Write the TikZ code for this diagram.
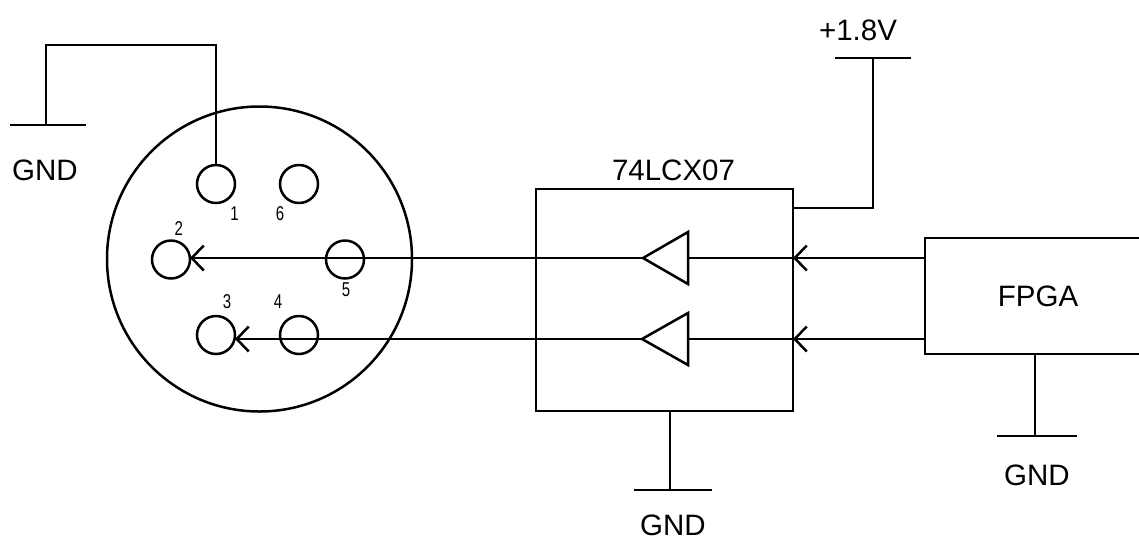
\documentclass[tikz,border=0pt]{standalone}
\usepackage{fontspec}
\setmainfont{Liberation Sans}
\newfontfamily\numfont[FakeStretch=0.75]{Liberation Sans}
\usetikzlibrary{arrows.meta,shapes.geometric}
\tikzset{
  x=1pt,y=-1pt,
  wire/.style={line width=2.5pt,draw=black,line join=miter},
  sig/.style={wire,-{Straight Barb[length=12pt,width=25pt,line width=2.5pt]}},
  pin/.style={circle,draw=black,line width=2.5pt,minimum size=38pt,inner sep=0pt,outer sep=0pt},
  lab/.style={font=\fontsize{29.5}{30}\selectfont,inner sep=0pt},
  num/.style={font=\numfont\fontsize{20}{20}\selectfont,inner sep=0pt},
  buf/.style={wire,fill=white},
}
\begin{document}
\begin{tikzpicture}
\useasboundingbox (0,0) rectangle (1139,539);
% connector
\node[circle,draw=black,line width=2.5pt,minimum size=305pt,inner sep=0pt] (shell) at (259.5,259) {};
\node[pin] (p1) at (216,184) {};
\node[pin] (p6) at (299,184) {};
\node[pin] (p2) at (171,259.5) {};
\node[pin] (p5) at (345,259.5) {};
\node[pin] (p3) at (216,335) {};
\node[pin] (p4) at (299,335) {};
\node[num] (n1) at (234.5,214) {1};
\node[num] (n6) at (280,214) {6};
\node[num] (n2) at (178.7,228.7) {2};
\node[num] (n5) at (346,290) {5};
\node[num] (n3) at (227,301.3) {3};
\node[num] (n4) at (278,301.3) {4};
% boxes
\node[draw=black,line width=2.5pt,minimum width=257pt,minimum height=222pt,inner sep=0pt] (ic) at (664.5,300) {};
\node[draw=black,line width=2.5pt,minimum width=240pt,minimum height=116pt,inner sep=0pt] (fpga) at (1045,296) {};
\node[lab] (fpgat) at (1038,296) {FPGA};
\node[lab] (ict) at (673.5,170) {74LCX07};
% ground / supply
\coordinate (g1) at (46,125);
\coordinate (g1a) at (10,125);
\coordinate (g1b) at (86,125);
\node[lab] (g1t) at (45,170) {GND};
\draw[wire] (p1.north) -- (216,45) -- (46,45) -- (g1);
\draw[wire] (g1a) -- (g1b);
\coordinate (vs) at (793,208);
\coordinate (v) at (873,58);
\coordinate (va) at (835,58);
\coordinate (vb) at (911,58);
\node[lab] (vt) at (858,30) {+1.8V};
\draw[wire] (vs) -- (873,208) -- (v);
\draw[wire] (va) -- (vb);
\coordinate (g2) at (670,490);
\coordinate (g2a) at (634,490);
\coordinate (g2b) at (712,490);
\node[lab] (g2t) at (673,525) {GND};
\draw[wire] (670,411) -- (g2);
\draw[wire] (g2a) -- (g2b);
\coordinate (g3) at (1035,436);
\coordinate (g3a) at (997,436);
\coordinate (g3b) at (1077,436);
\node[lab] (g3t) at (1037,475) {GND};
\draw[wire] (1035,354) -- (g3);
\draw[wire] (g3a) -- (g3b);
% signals
\coordinate (a1) at (793,258);
\coordinate (a2) at (793,339);
\coordinate (f1) at (925,258);
\coordinate (f2) at (925,339);
\coordinate (t1) at (688,258);
\coordinate (t2) at (688,339);
\coordinate (o1) at (643,258);
\coordinate (o2) at (642,339);
\draw[sig] (f1) -- (a1);
\draw[sig] (f2) -- (a2);
\draw[wire] (a1) -- (t1);
\draw[wire] (a2) -- (t2);
\draw[buf] (t1) -- (688,232) -- (o1) -- (688,284) -- cycle;
\draw[buf] (t2) -- (688,313) -- (o2) -- (688,365) -- cycle;
\draw[sig] (o1) -- (190,258);
\draw[sig] (o2) -- (235,339);
\end{tikzpicture}
\end{document}
